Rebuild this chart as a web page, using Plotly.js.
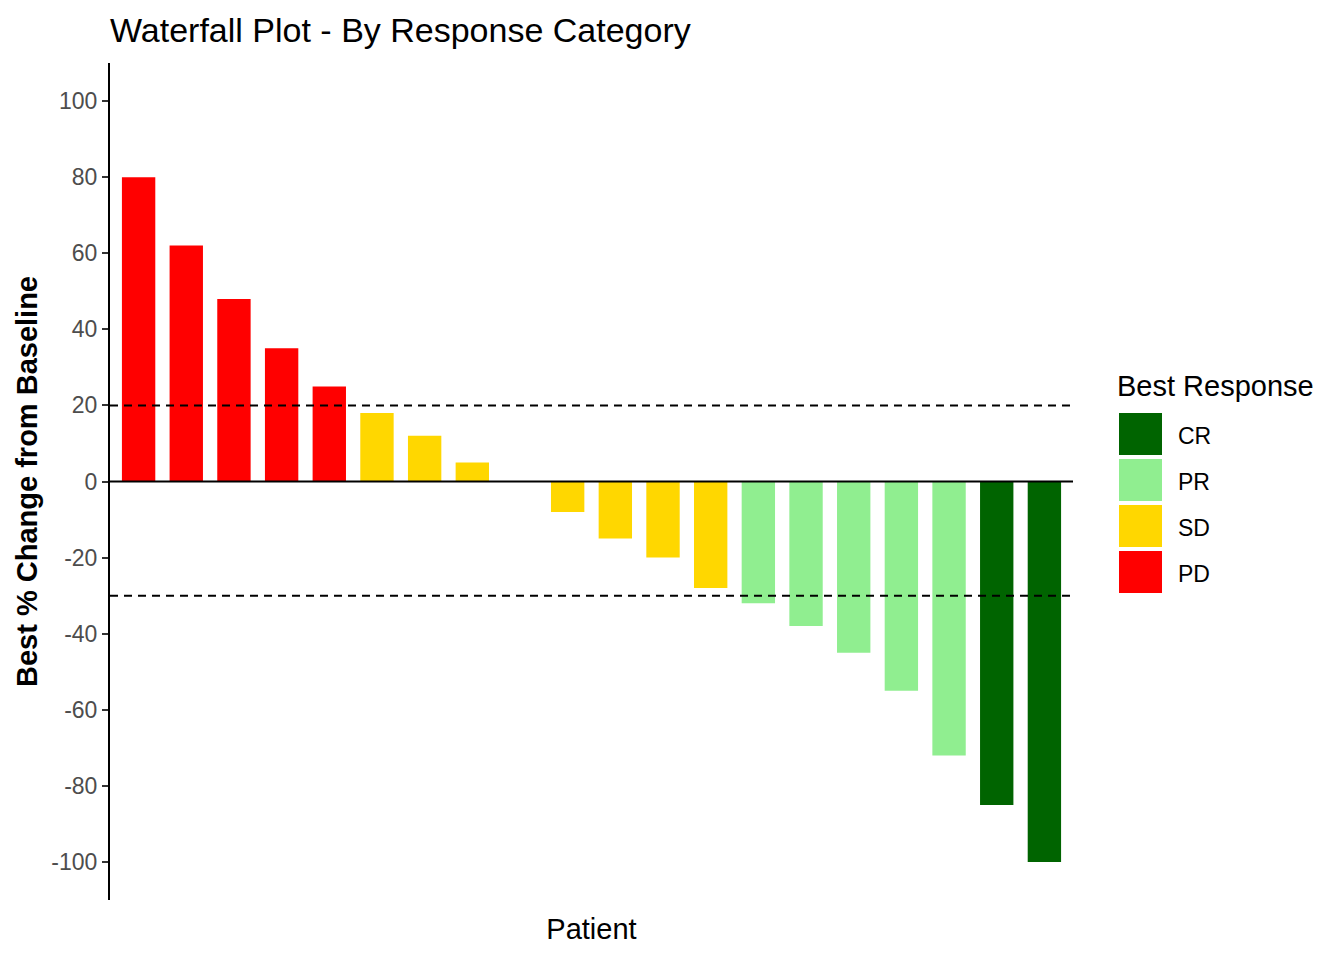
<!DOCTYPE html>
<html>
<head>
<meta charset="utf-8">
<script src="https://cdn.plot.ly/plotly-3.0.1.min.js"></script>
<style>
  html, body { margin: 0; padding: 0; background: #fff; }
  #myDiv { width: 1344px; height: 960px; }
</style>
</head>
<body>
<div id="myDiv"></div>
<script>
// patients sorted by best % change, with their response category
var patients = [1, 2, 3, 4, 5, 6, 7, 8, 9, 10, 11, 12, 13, 14, 15, 16, 17, 18, 19, 20];
var pctChange = [80, 62, 48, 35, 25, 18, 12, 5, 0, -8, -15, -20, -28, -32, -38, -45, -55, -72, -85, -100];
var response = ['PD', 'PD', 'PD', 'PD', 'PD', 'SD', 'SD', 'SD', 'SD', 'SD', 'SD', 'SD', 'SD',
                'PR', 'PR', 'PR', 'PR', 'PR', 'CR', 'CR'];
var categories = ['CR', 'PR', 'SD', 'PD'];
var catColors = {CR: '#006400', PR: '#90EE90', SD: '#FFD700', PD: '#FF0000'};
var cutoffs = [20, -30];
var yTicks = [-100, -80, -60, -40, -20, 0, 20, 40, 60, 80, 100];
var yTickText = ['-100', '-80', '-60', '-40', '-20', '0', '20', '40', '60', '80', '100'];

var font = 'Liberation Sans, Arial, sans-serif';

var data = categories.map(function (c) {
  var xs = [], ys = [];
  for (var i = 0; i < patients.length; i++) {
    if (response[i] === c) { xs.push(patients[i]); ys.push(pctChange[i]); }
  }
  return {
    type: 'bar', x: xs, y: ys, name: c, width: 0.7,
    marker: {color: catColors[c], line: {width: 0}},
    showlegend: false, hoverinfo: 'x+y+name'
  };
});

// plot area in pixels: x 110..1073, y 63..900
var L = 110, R = 1073, T = 63, B = 900;
function px(x) { return (x - L) / (R - L); }
function py(y) { return (B - y) / (B - T); }

var shapes = [{
  type: 'line', xref: 'paper', yref: 'y', x0: 0, x1: 1, y0: 0, y1: 0,
  line: {color: '#000', width: 2}, layer: 'above'
}];
cutoffs.forEach(function (v) {
  shapes.push({
    type: 'line', xref: 'paper', yref: 'y', x0: 0, x1: 1, y0: v, y1: v,
    line: {color: '#000', width: 2, dash: '8px,6px'}, layer: 'above'
  });
});

// legend drawn by hand to get the large ggplot keys
var annotations = [{
  xref: 'paper', yref: 'paper', x: px(1115), y: py(386), xanchor: 'left', yanchor: 'middle',
  text: 'Best Response', showarrow: false, font: {family: font, size: 29, color: '#000'}
}];
categories.forEach(function (c, i) {
  var top = 413 + i * 46;
  shapes.push({
    type: 'rect', xref: 'paper', yref: 'paper',
    x0: px(1119), x1: px(1162), y0: py(top + 42), y1: py(top),
    fillcolor: catColors[c], line: {width: 0}
  });
  annotations.push({
    xref: 'paper', yref: 'paper', x: px(1176), y: py(top + 23), xanchor: 'left', yanchor: 'middle',
    text: c, showarrow: false, font: {family: font, size: 23, color: '#000'}
  });
});

var layout = {
  width: 1344, height: 960,
  margin: {l: L, r: 1344 - R, t: T, b: 960 - B, pad: 0},
  paper_bgcolor: '#fff', plot_bgcolor: '#fff',
  font: {family: font, color: '#000'},
  title: {
    text: 'Waterfall Plot - By Response Category', x: 110 / 1344, xanchor: 'left',
    y: 1 - 30 / 960, yanchor: 'middle', font: {family: font, size: 34, color: '#000'}
  },
  bargap: 0.3,
  xaxis: {
    range: [0.4, 20.6], showticklabels: false, ticks: '', showgrid: false, zeroline: false,
    showline: false, fixedrange: true,
    title: {text: 'Patient', font: {family: font, size: 29, color: '#000'}, standoff: 18}
  },
  yaxis: {
    range: [-110, 110], tickvals: yTicks, ticktext: yTickText,
    showgrid: false, zeroline: false, showline: true, linecolor: '#000', linewidth: 2,
    ticks: 'outside', ticklen: 6, tickwidth: 2, tickcolor: '#333',
    tickfont: {family: font, size: 23, color: '#4d4d4d'},
    title: {text: '<b>Best % Change from Baseline</b>', font: {family: font, size: 29, color: '#000'}, standoff: 5}
  },
  shapes: shapes,
  annotations: annotations
};

Plotly.newPlot('myDiv', data, layout, {displayModeBar: false, staticPlot: true});
</script>
</body>
</html>
